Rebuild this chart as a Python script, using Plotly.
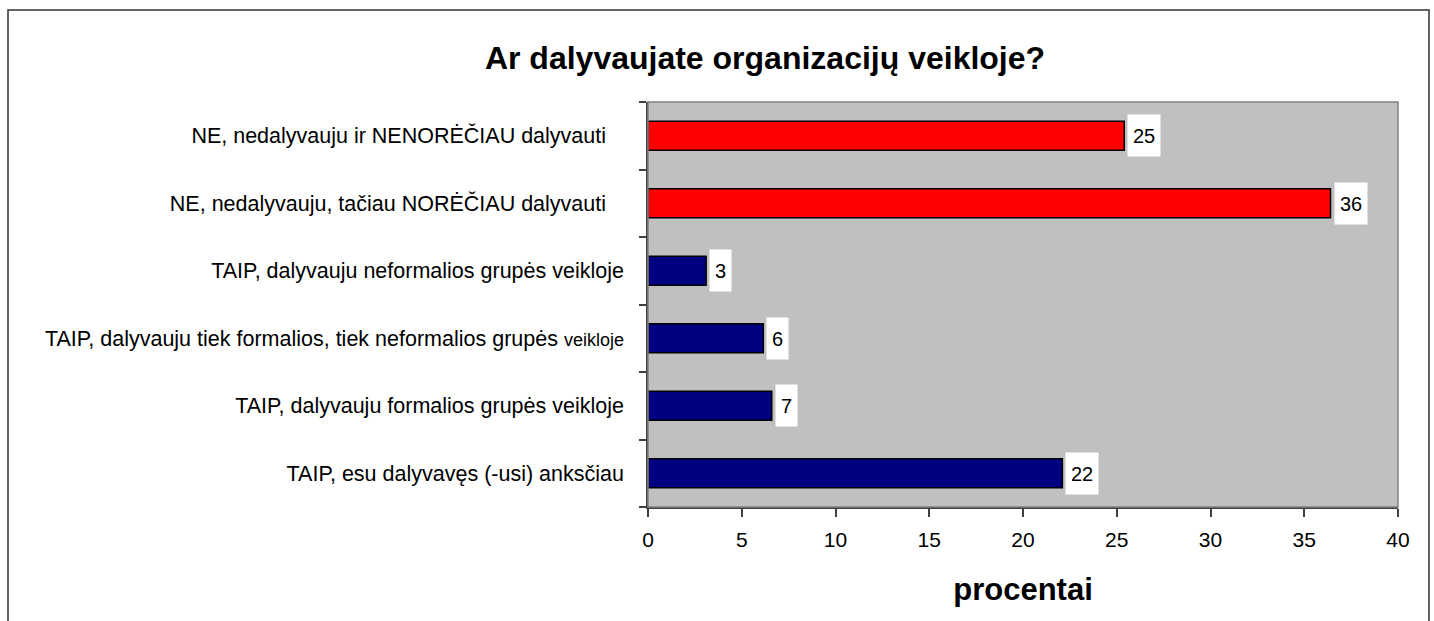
import plotly.graph_objects as go

# ---- data ----
categories = [
    "NE, nedalyvauju ir NENORĖČIAU dalyvauti",
    "NE, nedalyvauju, tačiau NORĖČIAU dalyvauti",
    "TAIP, dalyvauju neformalios grupės veikloje",
    "TAIP, dalyvauju tiek formalios, tiek neformalios grupės veikloje",
    "TAIP, dalyvauju formalios grupės veikloje",
    "TAIP, esu dalyvavęs (-usi) anksčiau",
]
tick_labels = [
    "NE, nedalyvauju ir NENORĖČIAU dalyvauti\u00a0\u00a0\u00a0",
    "NE, nedalyvauju, tačiau NORĖČIAU dalyvauti\u00a0\u00a0\u00a0",
    "TAIP, dalyvauju neformalios grupės veikloje",
    "TAIP, dalyvauju tiek formalios, tiek neformalios grupės <span style=\"font-size:18px\">veikloje</span>",
    "TAIP, dalyvauju formalios grupės veikloje",
    "TAIP, esu dalyvavęs (-usi) anksčiau",
]
values = [25.4, 36.4, 3.1, 6.15, 6.6, 22.1]
value_labels = ["25", "36", "3", "6", "7", "22"]
bar_colors = ["#FF0000", "#FF0000", "#000080", "#000080", "#000080", "#000080"]

title_text = "Ar dalyvaujate organizacijų veikloje?"
x_title = "procentai"
x_ticks = [0, 5, 10, 15, 20, 25, 30, 35, 40]

FONT = "Liberation Sans, Arial, Helvetica, sans-serif"
W, H = 1434, 621
ML, MR, MT, MB = 648, 36, 102, 114

fig = go.Figure()
fig.add_trace(go.Bar(
    x=values, y=categories, orientation="h",
    width=0.43,
    marker=dict(color=bar_colors, line=dict(color="#000000", width=1.5)),
    hoverinfo="x+y", showlegend=False,
))

for v, c, t in zip(values, categories, value_labels):
    fig.add_annotation(
        x=v, y=c, xref="x", yref="y", text=t, showarrow=False,
        xanchor="left", yanchor="middle", xshift=3,
        bgcolor="#FFFFFF", borderpad=2,
        width=11 * len(t) + 6, height=37,
        font=dict(family=FONT, size=20, color="#000000"),
    )

# outer chart border
pw = W - ML - MR
ph = H - MT - MB
fig.add_shape(
    type="rect", xref="paper", yref="paper",
    x0=(8 - ML) / pw, x1=(1429 - ML) / pw,
    y0=(H - MB - 640) / ph, y1=(H - MB - 10) / ph,
    line=dict(color="#303030", width=1.5), fillcolor="rgba(0,0,0,0)",
    layer="above",
)
# plot area frame (gray)
fig.add_shape(
    type="rect", xref="paper", yref="paper", x0=0, x1=1, y0=0, y1=1,
    line=dict(color="#808080", width=1.5), fillcolor="rgba(0,0,0,0)",
    layer="above",
)

fig.update_layout(
    width=W, height=H,
    margin=dict(l=ML, r=MR, t=MT, b=MB, autoexpand=False),
    paper_bgcolor="#FFFFFF", plot_bgcolor="#C0C0C0",
    font=dict(family=FONT, size=20, color="#000000"),
    title=dict(
        text="<b>" + title_text + "</b>",
        x=765 / W, xanchor="center", xref="container",
        y=1 - 58 / H, yanchor="middle", yref="container",
        font=dict(family=FONT, size=32, color="#000000"),
    ),
    xaxis=dict(
        range=[0, 40], tickvals=x_ticks, ticks="outside", ticklen=8,
        tickcolor="#404040", tickwidth=1.5,
        showgrid=False, zeroline=False,
        showline=True, linecolor="#404040", linewidth=1.5,
        tickfont=dict(family=FONT, size=21, color="#000000"),
        ticklabelstandoff=5,
        title=dict(text="<b>" + x_title + "</b>", standoff=28,
                   font=dict(family=FONT, size=31, color="#000000")),
        fixedrange=True,
    ),
    yaxis=dict(
        type="category", categoryorder="array", categoryarray=categories,
        autorange="reversed",
        tickvals=categories, ticktext=tick_labels,
        tickson="boundaries", ticks="outside", ticklen=7,
        tickcolor="#404040", tickwidth=1.5,
        showgrid=False, zeroline=False,
        showline=True, linecolor="#404040", linewidth=1.5,
        tickfont=dict(family=FONT, size=21.5, color="#000000"),
        ticklabelstandoff=18,
        fixedrange=True,
    ),
    bargap=0.57,
)

fig.write_html(
    "out.html",
    config={"displayModeBar": False, "responsive": False},
    post_script="document.body.style.margin='0';document.body.style.overflow='hidden';",
)
